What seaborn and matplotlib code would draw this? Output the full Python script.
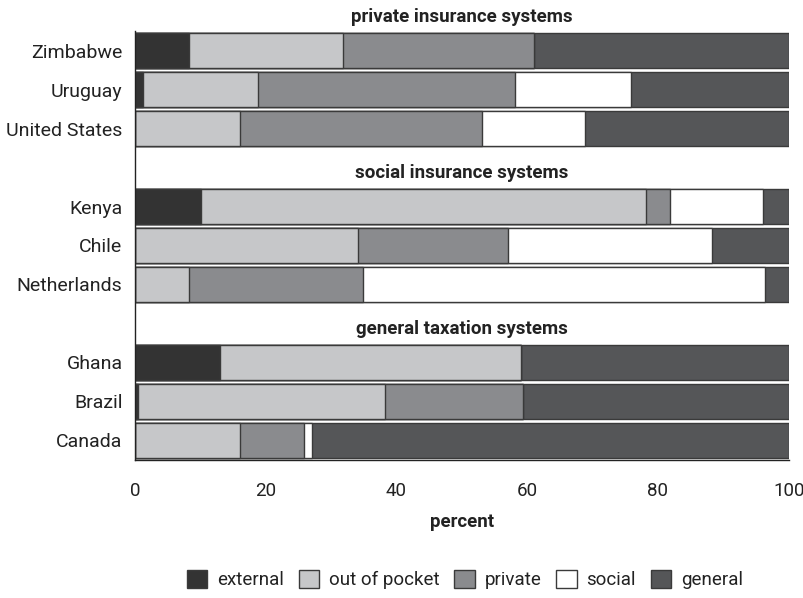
import pandas as pd
import seaborn as sns
import matplotlib.pyplot as plt
from matplotlib.patches import Patch

# data (percent of health spending by source)
countries = ['Zimbabwe', 'Uruguay', 'United States',
             'Kenya', 'Chile', 'Netherlands',
             'Ghana', 'Brazil', 'Canada']
groups = ['private insurance systems', 'social insurance systems', 'general taxation systems']
sources = ['external', 'out of pocket', 'private', 'social', 'general']

external = [8.2, 1.2, 0, 10.1, 0, 0, 13.0, 0.5, 0]
out_of_pocket = [23.6, 17.6, 16.0, 68.1, 34.1, 8.2, 46.0, 37.7, 16.0]
private = [29.3, 39.4, 37.0, 3.6, 23.0, 26.6, 0, 21.1, 9.9]
social = [0, 17.7, 15.9, 14.3, 31.1, 61.5, 0, 0, 1.1]
general = [38.9, 24.1, 31.1, 3.9, 11.8, 3.7, 41.0, 40.7, 73.0]

colors = ['#333333', '#c6c7c9', '#8a8b8e', '#ffffff', '#555658']

sns.set_style('white')
plt.rcParams['font.family'] = ['Roboto', 'DejaVu Sans']

df = pd.DataFrame({'country': countries, 'external': external, 'out of pocket': out_of_pocket,
                   'private': private, 'social': social, 'general': general})
cum = df[sources].cumsum(axis=1)
cum['country'] = df['country']

# row order with an empty slot above each group for the heading
order = []
for i, g in enumerate(groups):
    order.append(g)
    order += countries[i * 3:(i + 1) * 3]

fig = plt.figure(figsize=(8.04, 5.98), dpi=100)
ax = fig.add_axes([0.168, 0.231, 0.813, 0.717])

edge = '#3a3a3a'
for src, col in reversed(list(zip(sources, colors))):
    sns.barplot(data=cum, x=src, y='country', order=order, color=col, orient='h',
                width=0.9, edgecolor=edge, linewidth=1.0, saturation=1, ax=ax)

ax.set_xlim(0, 100)
rows = [order.index(c) for c in countries]
ax.set_yticks(rows)
ax.set_yticklabels(countries, fontsize=14, color='#222222')
ax.set_ylim(len(order) - 0.5, 0.5)
ax.tick_params(axis='y', length=0, pad=9)
ax.set_xticks([0, 20, 40, 60, 80, 100])
ax.tick_params(axis='x', length=8, width=1, color='#222222', labelsize=13.5, labelcolor='#222222', pad=8)
ax.set_xlabel('percent', fontsize=13.5, fontweight='bold', color='#222222', labelpad=9)
ax.set_ylabel('')

for g in groups:
    ax.text(50, order.index(g) + 0.13, g, ha='center', va='center', fontsize=13.5,
            fontweight='bold', color='#222222', clip_on=False)

sns.despine(ax=ax)
for s in ['left', 'bottom']:
    ax.spines[s].set_color('#222222')
    ax.spines[s].set_linewidth(1.0)

handles = [Patch(facecolor=c, edgecolor=edge, linewidth=1.0, label=s) for s, c in zip(sources, colors)]
fig.legend(handles=handles, loc='center', bbox_to_anchor=(0.578, 0.031), ncol=5, frameon=False,
           fontsize=13.5, handlelength=1.1, handleheight=1.1, handletextpad=0.5, columnspacing=0.8,
           labelcolor='#222222')

fig.savefig('out.png', dpi=100)
